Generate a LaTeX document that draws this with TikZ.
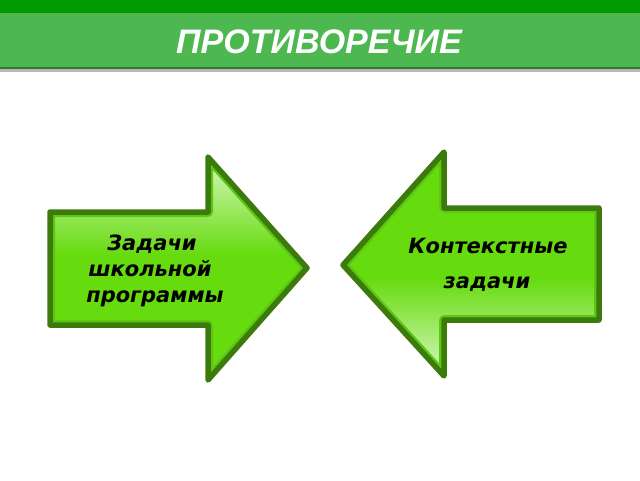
\documentclass[tikz,border=0pt]{standalone}
\usepackage{fontspec}
\newfontfamily\labfont{DejaVu Sans}
\newfontfamily\ttlfont{Liberation Sans}
\definecolor{hdark}{HTML}{009900}
\definecolor{hlight}{HTML}{4DB84F}
\definecolor{hline}{HTML}{2D7A30}
\definecolor{ashadow}{HTML}{B8B8B8}
\definecolor{aout}{HTML}{3D7A0C}
\definecolor{arim}{HTML}{5CC712}
\definecolor{afill}{HTML}{66DB0E}
\definecolor{alight}{HTML}{D8F8C0}
\tikzset{
  arrowshape/.style={draw=aout, line width=5.5pt, line join=round},
  lab/.style={font=\labfont\bfseries\itshape\fontsize{21}{23}\selectfont, text=black, align=center, anchor=base},
}
\begin{document}
\begin{tikzpicture}[x=1pt,y=-1pt]
\useasboundingbox (0,0) rectangle (640,480);
\fill[white] (0,0) rectangle (640,480);
% header
\fill[ashadow] (0,68) rectangle (640,72);
\fill[hlight] (0,0) rectangle (640,68);
\fill[hdark] (0,0) rectangle (640,13);
\fill[hline] (0,66.5) rectangle (640,68.5);
\node[font=\ttlfont\bfseries\itshape\fontsize{34}{36}\selectfont, text=white, anchor=base] (title) at (319,53) {ПРОТИВОРЕЧИЕ};
% left arrow
\def\leftarrowpath{(50,212) -- (208,212) -- (208,157) -- (307,268) -- (208,380) -- (208,325) -- (50,325) -- cycle}
\fill[afill] \leftarrowpath;
\begin{scope}
\clip \leftarrowpath;
\fill[top color=alight, bottom color=afill] (40,157) rectangle (320,255);
\draw[arim, line width=10pt, line join=round] \leftarrowpath;
\end{scope}
\draw[arrowshape] \leftarrowpath;
% right arrow
\def\rightarrowpath{(599,208) -- (444,208) -- (444,152) -- (343,265) -- (444,376) -- (444,320) -- (599,320) -- cycle}
\fill[afill] \rightarrowpath;
\begin{scope}
\clip \rightarrowpath;
\fill[top color=afill, bottom color=alight] (330,278) rectangle (610,376);
\draw[arim, line width=10pt, line join=round] \rightarrowpath;
\end{scope}
\draw[arrowshape] \rightarrowpath;
% labels
\node[lab] (l1) at (152,250) {Задачи};
\node[lab] (l2) at (150,276) {школьной};
\node[lab] (l3) at (155,302) {программы};
\node[lab] (r1) at (488,253) {Контекстные};
\node[lab] (r2) at (487,288) {задачи};
\end{tikzpicture}
\end{document}
